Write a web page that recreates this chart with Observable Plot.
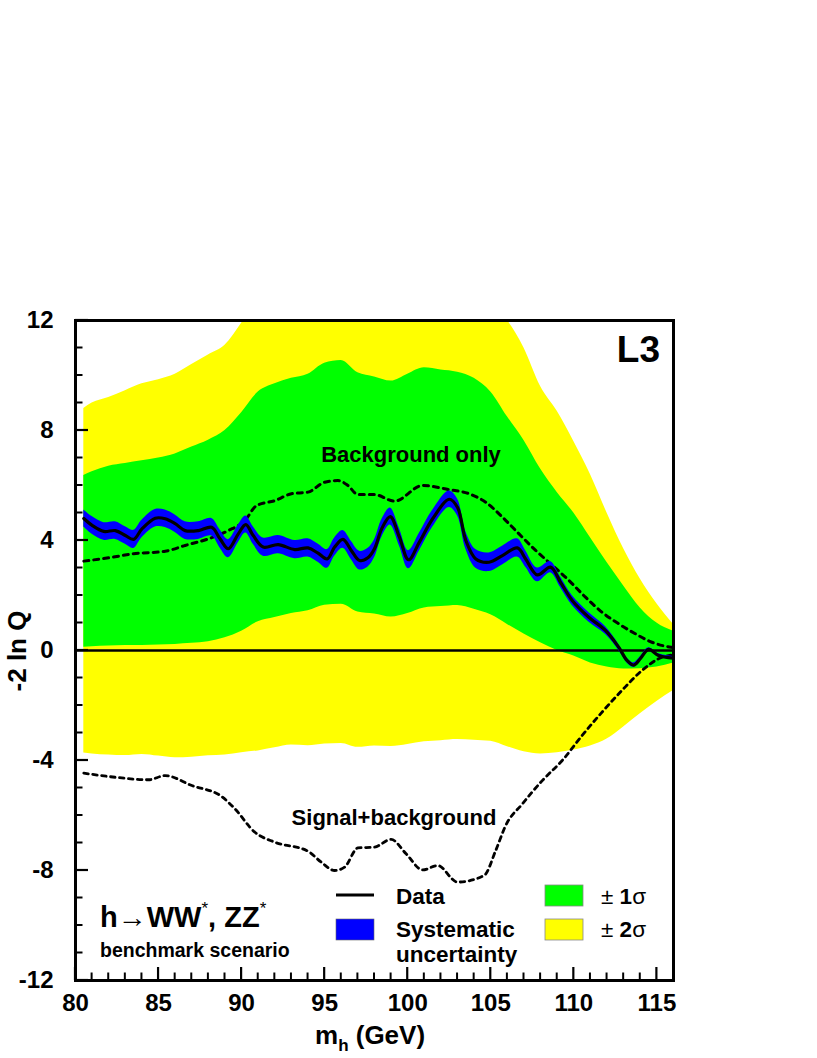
<!DOCTYPE html>
<html>
<head>
<meta charset="utf-8">
<script src="https://cdn.jsdelivr.net/npm/d3@7"></script>
<script src="https://cdn.jsdelivr.net/npm/@observablehq/plot@0.6"></script>
<style>
  html, body { margin: 0; padding: 0; background: #fff; }
  #chart { width: 817px; height: 1058px; }
</style>
</head>
<body>
<div id="chart"></div>
<script>
// ---- expected bands (background-only hypothesis) ----
const bandMass = [80.5,81,82,83,84,85,86,87,88,89,90,91,92,93,94,95,96,97,98,99,100,101,102,103,104,105,106,107,108,109,110,111,112,113,114,115,116];
const sig2Hi = [8.8,9.0,9.2,9.45,9.7,9.85,10.05,10.4,10.75,11.1,11.9,12.8,13,13,13,13,13,13,13,13,13,13,13,13,13,12.6,12.0,11.0,9.6,8.7,7.6,6.4,5.0,3.7,2.6,1.7,0.95];
const sig1Hi = [6.36,6.5,6.7,6.8,6.9,7.0,7.15,7.4,7.65,8.0,8.65,9.4,9.7,9.9,10.05,10.45,10.55,10.1,9.95,9.8,10.05,10.28,10.2,10.12,9.9,9.4,8.5,7.64,6.6,5.75,5.0,4.1,3.2,2.35,1.55,1.0,0.7];
const sig1Lo = [0.12,0.14,0.16,0.18,0.18,0.2,0.22,0.26,0.32,0.46,0.7,1.05,1.2,1.35,1.45,1.65,1.68,1.4,1.33,1.22,1.35,1.55,1.6,1.64,1.5,1.3,0.95,0.6,0.28,0.0,-0.2,-0.45,-0.6,-0.67,-0.66,-0.6,-0.45];
const sig2Lo = [-3.73,-3.76,-3.8,-3.82,-3.78,-3.84,-3.9,-3.88,-3.83,-3.8,-3.72,-3.65,-3.54,-3.44,-3.46,-3.4,-3.38,-3.52,-3.47,-3.49,-3.42,-3.32,-3.28,-3.24,-3.26,-3.3,-3.5,-3.68,-3.76,-3.72,-3.62,-3.47,-3.22,-2.78,-2.3,-1.85,-1.45];

// ---- observed data ----
const dataMass = [80.5,81.0,81.7,82.4,83.0,83.5,84.0,84.8,85.4,86.0,86.6,87.4,88.2,88.7,89.2,89.8,90.25,90.7,91.3,92.2,93.2,94.0,94.6,95.15,95.6,96.1,96.6,97.1,97.6,98.0,98.45,98.95,99.5,100.05,100.7,101.5,102.5,103.0,103.5,104.1,104.9,105.7,106.6,107.1,107.8,108.6,109.2,109.9,110.9,111.9,112.7,113.2,113.6,114.0,114.5,115.1,116];
const dataQ = [4.8,4.55,4.33,4.36,4.18,4.04,4.42,4.81,4.79,4.61,4.36,4.36,4.48,4.06,3.70,4.24,4.58,4.18,3.76,3.85,3.67,3.73,3.54,3.33,3.76,4.04,3.64,3.27,3.37,3.70,4.45,4.87,4.12,3.30,3.94,4.79,5.5,5.2,4.0,3.33,3.21,3.45,3.73,3.33,2.75,3.03,2.48,1.82,1.21,0.73,0.12,-0.36,-0.53,-0.30,0.04,-0.18,-0.28];
const dataSys = [0.31,0.32,0.32,0.32,0.32,0.33,0.32,0.32,0.32,0.32,0.32,0.32,0.32,0.33,0.33,0.32,0.31,0.32,0.33,0.33,0.33,0.33,0.33,0.34,0.33,0.32,0.33,0.34,0.34,0.33,0.32,0.31,0.32,0.33,0.32,0.31,0.3,0.31,0.32,0.34,0.34,0.34,0.33,0.3,0.25,0.2,0.19,0.18,0.17,0.14,0.11,0.09,0.08,0.07,0.06,0.06,0.06];

// ---- expected medians ----
const bgMass = [80.5,82,83.5,85.4,86.6,88,89.2,90.2,90.9,92,93,94,95,95.8,96.4,97,98,99.2,100.9,102.5,103.7,104.7,105.7,106.7,107.7,108.7,109.7,110.7,111.7,112.7,113.7,114.7,116];
const bgQ = [3.25,3.37,3.52,3.61,3.82,4.06,4.36,4.73,5.27,5.45,5.70,5.76,6.12,6.18,6.0,5.67,5.67,5.43,6.0,5.85,5.70,5.39,4.85,4.24,3.64,3.1,2.55,1.94,1.39,0.97,0.61,0.30,0.1];
const sbMass = [80.5,82.4,84.4,85.4,87,88.8,89.6,90.8,92,94,94.8,95.6,96.2,97,98,99,99.9,100.9,101.8,103,104.6,105.3,105.9,106.9,108.1,109.3,110.5,111.7,112.9,114.1,115.1,116];
const sbQ = [-4.46,-4.61,-4.70,-4.55,-4.91,-5.31,-5.76,-6.61,-6.97,-7.30,-7.70,-8.0,-7.88,-7.18,-7.15,-6.87,-7.39,-7.98,-7.82,-8.42,-8.18,-7.27,-6.36,-5.58,-4.73,-4.0,-3.09,-2.24,-1.45,-0.73,-0.30,-0.15];

// ---- ticks ----
const xMajor = [80,85,90,95,100,105,110,115];
const xMinor = [80,81,82,83,84,85,86,87,88,89,90,91,92,93,94,95,96,97,98,99,100,101,102,103,104,105,106,107,108,109,110,111,112,113,114,115,116];
const yMajor = [-12,-8,-4,0,4,8,12];
const yMinor = [-12,-11,-10,-9,-8,-7,-6,-5,-4,-3,-2,-1,0,1,2,3,4,5,6,7,8,9,10,11,12];

// ---- tables ----
const bands = bandMass.map((m, i) => ({m, lo2: sig2Lo[i], hi2: sig2Hi[i], lo1: sig1Lo[i], hi1: sig1Hi[i]}));
const obs = dataMass.map((m, i) => ({m, q: dataQ[i], lo: dataQ[i] - dataSys[i], hi: dataQ[i] + dataSys[i]}));
const bg = bgMass.map((m, i) => ({m, q: bgQ[i]}));
const sb = sbMass.map((m, i) => ({m, q: sbQ[i]}));

const W = 817, H = 1058;
const mL = 75, mR = 144, mT = 320, mB = 78;
const FONT = "Liberation Sans, Arial, Helvetica, sans-serif";

const plot = Plot.plot({
  width: W, height: H,
  marginLeft: mL, marginRight: mR, marginTop: mT, marginBottom: mB,
  style: {fontFamily: FONT, background: "#fff", color: "#000", overflow: "visible"},
  x: {domain: [80, 116], axis: null},
  y: {domain: [-12, 12], axis: null},
  marks: [
    Plot.areaY(bands, {x: "m", y1: "lo2", y2: "hi2", fill: "#ffff00", curve: "monotone-x", clip: true}),
    Plot.areaY(bands, {x: "m", y1: "lo1", y2: "hi1", fill: "#00ff00", curve: "monotone-x", clip: true}),
    Plot.ruleY([0], {stroke: "#000", strokeWidth: 2.5}),
    Plot.line(bg, {x: "m", y: "q", stroke: "#000", strokeWidth: 3, strokeDasharray: "5,5", curve: "monotone-x", clip: true}),
    Plot.line(sb, {x: "m", y: "q", stroke: "#000", strokeWidth: 2.8, strokeDasharray: "4.5,4.5", curve: "monotone-x", clip: true}),
    Plot.areaY(obs, {x: "m", y1: "lo", y2: "hi", fill: "#0000ff", curve: "catmull-rom", clip: true}),
    Plot.line(obs, {x: "m", y: "q", stroke: "#000", strokeWidth: 3.2, curve: "catmull-rom", clip: true}),
    Plot.frame({stroke: "#000", strokeWidth: 3}),
    Plot.axisX({ticks: xMajor, tickSize: 0, tickPadding: 13, fontSize: 24, fontWeight: "bold", label: null, tickFormat: d => String(d)}),
    Plot.axisY({ticks: yMajor, tickSize: 0, tickPadding: 22, fontSize: 24, fontWeight: "bold", label: null, tickFormat: d => String(d)})
  ]
});

document.getElementById("chart").appendChild(plot);

const sx = plot.scale("x"), sy = plot.scale("y");
const svg = d3.select(plot);

// ---- inward tick marks drawn with the plot's own scales ----
const tk = svg.append("g").attr("stroke", "#000").attr("stroke-linecap", "butt");
const yB = sy.apply(-12), xL = sx.apply(80);
xMinor.forEach(v => {
  const major = xMajor.includes(v);
  tk.append("line").attr("x1", sx.apply(v)).attr("x2", sx.apply(v))
    .attr("y1", yB).attr("y2", yB - (major ? 13 : 7.5)).attr("stroke-width", major ? 2.2 : 2);
});
yMinor.forEach(v => {
  const major = yMajor.includes(v);
  tk.append("line").attr("y1", sy.apply(v)).attr("y2", sy.apply(v))
    .attr("x1", xL).attr("x2", xL + (major ? 13 : 7.5)).attr("stroke-width", major ? 2.2 : 2);
});

// ---- annotations & legend ----
const g = svg.append("g").attr("font-family", FONT).attr("font-weight", "bold")
  .attr("fill", "#000").attr("text-anchor", "start");

function txt(x, y, s, size, anchor = "start") {
  return g.append("text").attr("x", x).attr("y", y).attr("font-size", size).attr("text-anchor", anchor).text(s);
}

txt(660, 362, "L3", 37, "end");
txt(411, 462, "Background only", 22, "middle");
txt(394, 825, "Signal+background", 22, "middle");

// y-axis label
g.append("text")
  .attr("transform", "translate(26,651) rotate(-90)")
  .attr("text-anchor", "middle")
  .attr("font-size", 26)
  .text("-2 ln Q");

// x-axis label with subscript
const xl = g.append("text").attr("x", 315).attr("y", 1044).attr("font-size", 26);
xl.append("tspan").text("m");
xl.append("tspan").attr("font-size", 17).attr("dy", 7).text("h");
xl.append("tspan").attr("dy", -7).text(" (GeV)");

// process label
const pl = g.append("text").attr("x", 100).attr("y", 927).attr("font-size", 29);
pl.append("tspan").text("h");
pl.append("tspan").attr("font-weight", "normal").text("\u2192");
pl.append("tspan").text("WW");
pl.append("tspan").attr("font-size", 17).attr("dy", -13).attr("font-weight", "normal").text("*");
pl.append("tspan").attr("dy", 13).text(", ZZ");
pl.append("tspan").attr("font-size", 17).attr("dy", -13).attr("font-weight", "normal").text("*");
txt(100, 957, "benchmark scenario", 19.5);

// legend
g.append("line").attr("x1", 336).attr("x2", 374).attr("y1", 895).attr("y2", 895).attr("stroke", "#000").attr("stroke-width", 3);
g.append("rect").attr("x", 336).attr("y", 919).attr("width", 38).attr("height", 21).attr("fill", "#0000ff").attr("stroke", "#666").attr("stroke-width", 0.6);
g.append("rect").attr("x", 545).attr("y", 885).attr("width", 38).attr("height", 21).attr("fill", "#00ff00").attr("stroke", "#888").attr("stroke-width", 0.8);
g.append("rect").attr("x", 545).attr("y", 919).attr("width", 38).attr("height", 21).attr("fill", "#ffff00").attr("stroke", "#888").attr("stroke-width", 0.8);
txt(396, 904, "Data", 22.5);
txt(396, 937, "Systematic", 22.5);
txt(396, 962, "uncertainty", 22.5);
function sig(y, n) {
  const t = g.append("text").attr("x", 601).attr("y", y).attr("font-size", 22.5);
  t.append("tspan").attr("font-weight", "normal").text("\u00B1 ");
  t.append("tspan").text(n);
  t.append("tspan").attr("font-weight", "normal").text("\u03C3");
}
sig(904, "1");
sig(937, "2");
</script>
</body>
</html>
